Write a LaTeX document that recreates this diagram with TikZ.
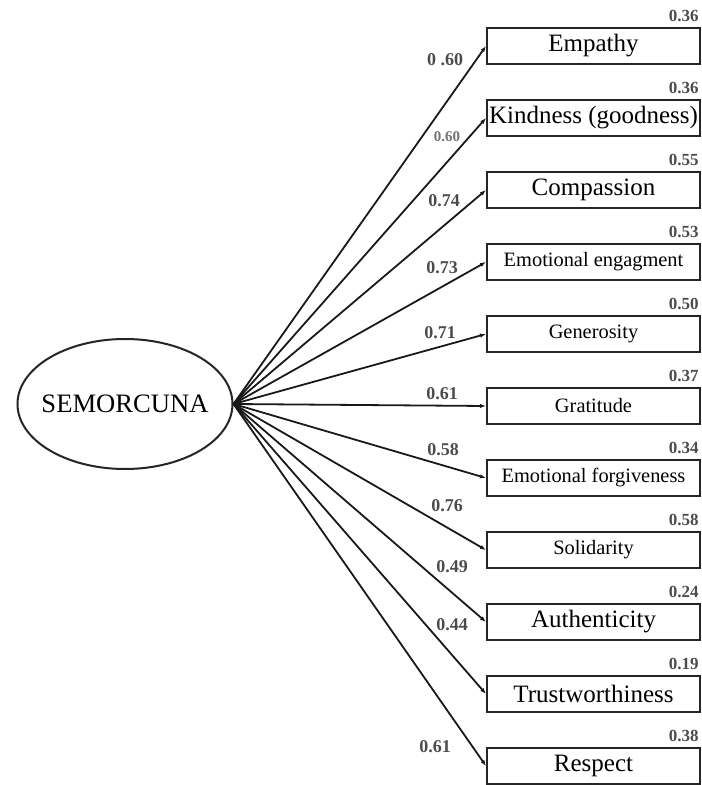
\documentclass[tikz,border=0pt]{standalone}
\usepackage{fontspec}
\setmainfont{Liberation Serif}
\usetikzlibrary{arrows.meta, positioning, shapes.geometric}

\begin{document}
\begin{tikzpicture}[x=0.5pt, y=-0.5pt,
    item/.style={draw=black!85, line width=1pt, minimum width=106.5pt, minimum height=18pt, inner xsep=0.5pt, font=\fontsize{12.5}{14}\selectfont},
    smallitem/.style={item, font=\fontsize{10.2}{12}\selectfont},
    load/.style={text=black!70, font=\fontsize{9}{10}\selectfont\bfseries},
    err/.style={text=black!70, font=\fontsize{8.5}{10}\selectfont\bfseries, anchor=south east, inner sep=1pt},
    link/.style={-{Latex[length=3pt,width=2.2pt]}, draw=black!90, line width=0.9pt}]
    \useasboundingbox (0,0) rectangle (701,785);

    \node[ellipse, draw=black!85, line width=1pt, minimum width=107.5pt, minimum height=65pt] (semorcuna) at (125,404) {};
    \node[font=\fontsize{13.3}{15}\selectfont] (latent) at (semorcuna.center) {SEMORCUNA};

    \node[item] (empathy) at (593.5,46) {Empathy};
    \node[item] (kindness) at (593.5,118) {Kindness (goodness)};
    \node[item] (compassion) at (593.5,190) {Compassion};
    \node[smallitem] (engagement) at (593.5,262) {Emotional engagment};
    \node[smallitem] (generosity) at (593.5,334) {Generosity};
    \node[smallitem] (gratitude) at (593.5,406) {Gratitude};
    \node[smallitem] (forgiveness) at (593.5,478) {Emotional forgiveness};
    \node[smallitem] (solidarity) at (593.5,550) {Solidarity};
    \node[item] (authenticity) at (593.5,622) {Authenticity};
    \node[item] (trust) at (593.5,694) {Trustworthiness};
    \node[item] (respect) at (593.5,766) {Respect};

    % error variances
    \node[err] (e1) at ([yshift=1.5pt]empathy.north east) {0.36};
    \node[err] (e2) at ([yshift=1.5pt]kindness.north east) {0.36};
    \node[err] (e3) at ([yshift=1.5pt]compassion.north east) {0.55};
    \node[err] (e4) at ([yshift=1.5pt]engagement.north east) {0.53};
    \node[err] (e5) at ([yshift=1.5pt]generosity.north east) {0.50};
    \node[err] (e6) at ([yshift=1.5pt]gratitude.north east) {0.37};
    \node[err] (e7) at ([yshift=1.5pt]forgiveness.north east) {0.34};
    \node[err] (e8) at ([yshift=1.5pt]solidarity.north east) {0.58};
    \node[err] (e9) at ([yshift=1.5pt]authenticity.north east) {0.24};
    \node[err] (e10) at ([yshift=1.5pt]trust.north east) {0.19};
    \node[err] (e11) at ([yshift=1.5pt]respect.north east) {0.38};

    \draw[link] (semorcuna.east) -- (empathy.west);
    \draw[link] (semorcuna.east) -- (kindness.west);
    \draw[link] (semorcuna.east) -- (compassion.west);
    \draw[link] (semorcuna.east) -- (engagement.west);
    \draw[link] (semorcuna.east) -- (generosity.west);
    \draw[link] (semorcuna.east) -- (gratitude.west);
    \draw[link] (semorcuna.east) -- (forgiveness.west);
    \draw[link] (semorcuna.east) -- (solidarity.west);
    \draw[link] (semorcuna.east) -- (authenticity.west);
    \draw[link] (semorcuna.east) -- (trust.west);
    \draw[link] (semorcuna.east) -- (respect.west);

    % loadings
    \node[load] (l1) at (445,60) {0 .60};
    \node[load, font=\fontsize{7.5}{9}\selectfont\bfseries, text=black!55] (l2) at (447,137) {0.60};
    \node[load] (l3) at (444,201) {0.74};
    \node[load] (l4) at (442,268) {0.73};
    \node[load] (l5) at (440,333) {0.71};
    \node[load] (l6) at (442,394) {0.61};
    \node[load] (l7) at (443,450) {0.58};
    \node[load] (l8) at (447,506) {0.76};
    \node[load] (l9) at (452,567) {0.49};
    \node[load] (l10) at (452,625) {0.44};
    \node[load] (l11) at (435,747) {0.61};
\end{tikzpicture}
\end{document}
